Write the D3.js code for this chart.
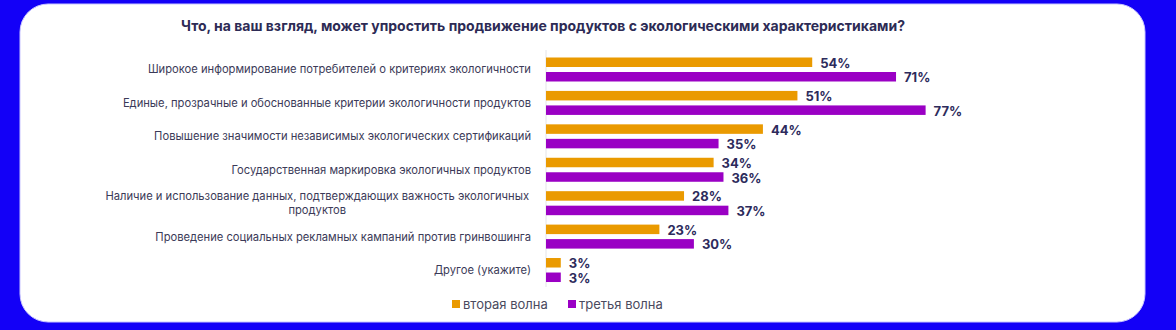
<!DOCTYPE html>
<html>
<head>
<meta charset="utf-8">
<script src="https://cdn.jsdelivr.net/npm/d3@7"></script>
<style>
  body { margin: 0; background: #1300f7; }
  #canvas { width: 1176px; height: 330px; }
</style>
</head>
<body>
<div id="canvas"></div>
<script>
var w = 1176;
var h = 330;

var titleText = "Что, на ваш взгляд, может упростить продвижение продуктов с экологическими характеристиками?";

var categories = [
    "Широкое информирование потребителей о критериях экологичности",
    "Единые, прозрачные и обоснованные критерии экологичности продуктов",
    "Повышение значимости независимых экологических сертификаций",
    "Государственная маркировка экологичных продуктов",
    "Наличие и использование данных, подтверждающих важность экологичных|продуктов",
    "Проведение социальных рекламных кампаний против гринвошинга",
    "Другое (укажите)"
];

var seriesNames = ["вторая волна", "третья волна"];
var wave2 = [54, 51, 44, 34, 28, 23, 3];
var wave3 = [71, 77, 35, 36, 37, 30, 3];

var colors = ["#ea9a00", "#9a00c4"];

var svg = d3.select("#canvas").append("svg")
    .attr("width", w)
    .attr("height", h)
    .style("display", "block");

// blue frame + white card
svg.append("rect")
    .attr("width", w).attr("height", h)
    .attr("fill", "#1300f7");

svg.append("rect")
    .attr("x", 20).attr("y", 4)
    .attr("width", 1125).attr("height", 318)
    .attr("rx", 28)
    .attr("fill", "#ffffff")
    .attr("stroke", "#c9c6ff")
    .attr("stroke-width", 1);

// title
svg.append("text")
    .attr("x", 543)
    .attr("y", 31)
    .attr("text-anchor", "middle")
    .style("font-family", "Inter, 'Noto Sans', sans-serif")
    .style("font-weight", 700)
    .style("font-size", "14px")
    .attr("fill", "#2d2b55")
    .text(titleText);

var xScale = d3.scaleLinear()
    .domain([0, 100])
    .range([546, 546 + 493]);

var yScale = d3.scaleBand()
    .domain(categories)
    .range([57.5, 57.5 + 7 * 33.42]);

var inner = d3.scaleBand()
    .domain(seriesNames)
    .range([0, 24])
    .paddingInner(0.345);

// axis line
svg.append("line")
    .attr("x1", xScale(0)).attr("x2", xScale(0))
    .attr("y1", 50).attr("y2", 287)
    .attr("stroke", "#e4e4e8")
    .attr("stroke-width", 1);

var rows = categories.map(function(c, i) {
    return { cat: c, vals: [wave2[i], wave3[i]] };
});

var g = svg.selectAll("g.row")
    .data(rows)
    .enter().append("g")
    .attr("class", "row")
    .attr("transform", d => `translate(0,${yScale(d.cat)})`);

// category labels (second line centred under the first)
g.each(function(d) {
    var lines = d.cat.split("|");
    var mid = 12;
    var node = d3.select(this);
    if (lines.length == 1) {
        node.append("text")
            .attr("x", 531)
            .attr("y", mid)
            .attr("dy", "0.35em")
            .attr("text-anchor", "end")
            .attr("class", "cat")
            .text(lines[0]);
    } else {
        var t1 = node.append("text")
            .attr("x", 529)
            .attr("y", mid - 7)
            .attr("dy", "0.35em")
            .attr("text-anchor", "end")
            .attr("class", "cat")
            .style("font-family", "Inter, 'Noto Sans', sans-serif")
            .style("font-size", "11.2px")
            .text(lines[0]);
        var len = t1.node().getComputedTextLength();
        node.append("text")
            .attr("x", 529 - len / 2)
            .attr("y", mid + 7)
            .attr("dy", "0.35em")
            .attr("text-anchor", "middle")
            .attr("class", "cat")
            .text(lines[1]);
    }
});

svg.selectAll("text.cat")
    .style("font-family", "Inter, 'Noto Sans', sans-serif")
    .style("font-size", "11.2px")
    .attr("fill", "#3b3a58");

// bars
g.selectAll("rect.bar")
    .data(d => d.vals.map((v, j) => ({ s: seriesNames[j], v: v, j: j })))
    .enter().append("rect")
    .attr("class", "bar")
    .attr("x", xScale(0))
    .attr("y", d => inner(d.s))
    .attr("width", d => xScale(d.v) - xScale(0))
    .attr("height", inner.bandwidth())
    .attr("fill", d => colors[d.j]);

// value labels
g.selectAll("text.val")
    .data(d => d.vals.map((v, j) => ({ s: seriesNames[j], v: v, j: j })))
    .enter().append("text")
    .attr("class", "val")
    .attr("x", d => xScale(d.v) + 8)
    .attr("y", d => inner(d.s) + inner.bandwidth() / 2 + 1)
    .attr("dy", "0.35em")
    .style("font-family", "Inter, 'Noto Sans', sans-serif")
    .style("font-weight", 700)
    .style("font-size", "13px")
    .attr("fill", "#2d2b5c")
    .text(d => d.v + "%");

// legend
var legendX = [452, 568];
var legend = svg.selectAll("g.legend")
    .data(seriesNames)
    .enter().append("g")
    .attr("class", "legend")
    .attr("transform", (d, i) => `translate(${legendX[i]},304)`);

legend.append("rect")
    .attr("x", 0).attr("y", -4)
    .attr("width", 8).attr("height", 8)
    .attr("fill", (d, i) => colors[i]);

legend.append("text")
    .attr("x", 11)
    .attr("y", 0)
    .attr("dy", "0.35em")
    .style("font-family", "Inter, 'Noto Sans', sans-serif")
    .style("font-size", "13px")
    .attr("fill", "#4a4a5e")
    .text(d => d);
</script>
</body>
</html>
